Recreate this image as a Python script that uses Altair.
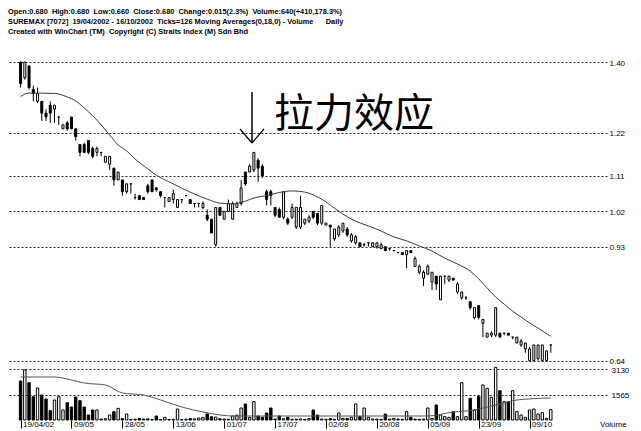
import altair as alt
import pandas as pd

# ---------------- data ----------------
header_lines = [
    "Open:0.680  High:0.680  Low:0.660  Close:0.680  Change:0.015(2.3%)  Volume:640(+410,178.3%)",
    "SUREMAX [7072]  19/04/2002 - 16/10/2002  Ticks=126 Moving Averages(0,18,0) - Volume      Daily",
    "Created with WinChart (TM)  Copyright (C) Straits Index (M) Sdn Bhd",
]
annotation = "拉力效应"

open_ = [1.40, 1.36, 1.39, 1.33, 1.30, 1.30, 1.27, 1.29, 1.28, 1.26,
         1.23, 1.245, 1.26, 1.23, 1.19, 1.19, 1.20, 1.18, 1.17, 1.17,
         1.145, 1.14, 1.13, 1.10, 1.10, 1.07, 1.09, 1.055, 1.06, 1.055,
         1.085, 1.10, 1.08, 1.07, 1.055, 1.045, 1.05, 1.03, 1.05, 1.06,
         1.05, 1.04, 1.04, 1.03, 1.01, 1.00, 0.935, 1.03, 1.00, 1.02,
         1.00, 1.03, 1.04, 1.12, 1.12, 1.125, 1.15, 1.135, 1.07, 1.07,
         1.03, 1.025, 1.005, 1.00, 1.005, 0.98, 0.98, 0.99, 0.995, 1.02,
         1.015, 0.99, 0.985, 0.985, 0.95, 0.96, 0.97, 0.975, 0.945, 0.94,
         0.94, 0.935, 0.94, 0.93, 0.93, 0.925, 0.93, 0.925, 0.92, 0.915,
         0.915, 0.91, 0.92, 0.88, 0.865, 0.85, 0.86, 0.84, 0.855, 0.795,
         0.855, 0.845, 0.85, 0.815, 0.80, 0.80, 0.79, 0.75, 0.78, 0.735,
         0.70, 0.705, 0.705, 0.71, 0.71, 0.71, 0.70, 0.685, 0.68, 0.67,
         0.64, 0.64, 0.645, 0.64, 0.64, 0.68]
high = [1.40, 1.40, 1.39, 1.34, 1.335, 1.30, 1.28, 1.30, 1.29, 1.26,
        1.24, 1.25, 1.26, 1.23, 1.19, 1.195, 1.20, 1.185, 1.185, 1.17,
        1.16, 1.16, 1.13, 1.12, 1.10, 1.09, 1.09, 1.065, 1.06, 1.055,
        1.09, 1.10, 1.08, 1.07, 1.055, 1.055, 1.075, 1.05, 1.05, 1.06,
        1.05, 1.04, 1.04, 1.045, 1.025, 1.00, 1.03, 1.03, 1.02, 1.05,
        1.045, 1.045, 1.10, 1.12, 1.14, 1.17, 1.155, 1.14, 1.075, 1.075,
        1.03, 1.03, 1.07, 1.005, 1.04, 1.03, 1.06, 1.00, 1.01, 1.02,
        1.015, 1.035, 0.99, 0.985, 0.975, 0.985, 0.99, 0.98, 0.965, 0.96,
        0.94, 0.94, 0.94, 0.94, 0.94, 0.94, 0.93, 0.925, 0.92, 0.915,
        0.915, 0.92, 0.92, 0.905, 0.885, 0.87, 0.885, 0.865, 0.855, 0.855,
        0.855, 0.855, 0.85, 0.84, 0.815, 0.805, 0.79, 0.775, 0.78, 0.745,
        0.71, 0.715, 0.775, 0.71, 0.71, 0.71, 0.70, 0.70, 0.695, 0.685,
        0.675, 0.68, 0.68, 0.68, 0.665, 0.68]
low = [1.335, 1.355, 1.33, 1.30, 1.295, 1.25, 1.25, 1.245, 1.245, 1.24,
       1.23, 1.225, 1.23, 1.20, 1.16, 1.17, 1.165, 1.155, 1.16, 1.16,
       1.145, 1.125, 1.085, 1.10, 1.06, 1.065, 1.065, 1.05, 1.05, 1.05,
       1.065, 1.07, 1.07, 1.055, 1.03, 1.045, 1.04, 1.03, 1.04, 1.06,
       1.04, 1.03, 1.03, 1.025, 0.995, 0.965, 0.93, 1.01, 1.00, 1.02,
       1.00, 1.03, 1.035, 1.085, 1.12, 1.12, 1.095, 1.105, 1.035, 1.035,
       1.005, 1.005, 1.00, 0.985, 1.00, 0.975, 0.975, 0.985, 0.99, 1.00,
       0.985, 0.985, 0.985, 0.93, 0.945, 0.955, 0.965, 0.955, 0.94, 0.935,
       0.93, 0.93, 0.93, 0.93, 0.925, 0.925, 0.92, 0.92, 0.92, 0.915,
       0.91, 0.875, 0.915, 0.88, 0.86, 0.83, 0.86, 0.82, 0.82, 0.795,
       0.835, 0.84, 0.845, 0.81, 0.795, 0.795, 0.77, 0.745, 0.745, 0.70,
       0.70, 0.70, 0.70, 0.70, 0.705, 0.705, 0.695, 0.685, 0.675, 0.66,
       0.64, 0.64, 0.64, 0.64, 0.64, 0.66]
close = [1.345, 1.40, 1.335, 1.32, 1.32, 1.27, 1.26, 1.27, 1.29, 1.26,
         1.24, 1.23, 1.23, 1.21, 1.17, 1.17, 1.17, 1.16, 1.18, 1.17,
         1.16, 1.16, 1.10, 1.12, 1.07, 1.09, 1.09, 1.055, 1.05, 1.05,
         1.07, 1.07, 1.075, 1.06, 1.055, 1.055, 1.065, 1.05, 1.05, 1.06,
         1.04, 1.04, 1.04, 1.04, 1.00, 0.965, 1.03, 1.01, 1.02, 1.04,
         1.04, 1.04, 1.08, 1.09, 1.135, 1.17, 1.13, 1.11, 1.05, 1.06,
         1.01, 1.005, 1.07, 0.99, 1.03, 1.03, 1.03, 1.00, 1.005, 1.005,
         0.99, 1.035, 0.99, 0.98, 0.975, 0.98, 0.99, 0.96, 0.96, 0.955,
         0.93, 0.935, 0.94, 0.94, 0.94, 0.935, 0.92, 0.925, 0.92, 0.915,
         0.91, 0.92, 0.915, 0.90, 0.88, 0.865, 0.88, 0.865, 0.835, 0.855,
         0.855, 0.855, 0.845, 0.835, 0.815, 0.80, 0.775, 0.775, 0.75, 0.745,
         0.71, 0.71, 0.775, 0.70, 0.71, 0.705, 0.70, 0.70, 0.69, 0.685,
         0.67, 0.68, 0.68, 0.68, 0.665, 0.68]
volume = [2395, 3070, 2290, 1430, 1965, 1535, 1290, 570, 1228, 1430,
          614, 1064, 798, 1412, 1187, 798, 307, 614, 614, 60,
          80, 307, 511, 716, 80, 368, 30, 50, 90, 60,
          70, 30, 245, 30, 164, 30, 40, 675, 30, 50,
          80, 70, 120, 160, 368, 200, 180, 80, 60, 50,
          245, 300, 737, 982, 150, 1125, 245, 164, 430, 737,
          60, 245, 80, 164, 40, 50, 60, 40, 90, 614,
          307, 60, 40, 80, 40, 430, 100, 100, 164, 982,
          205, 737, 164, 60, 60, 40, 368, 60, 100, 60,
          40, 511, 164, 60, 40, 60, 737, 100, 921, 307,
          205, 164, 511, 205, 2290, 205, 1330, 614, 1470, 2150,
          1945, 1400, 3235, 1800, 1125, 1125, 1800, 511, 307, 164,
          614, 675, 368, 450, 100, 640]

ma_idx = [0, 2, 8, 11, 13, 15, 17, 19, 21, 23, 25, 27, 30, 32, 35, 38, 41, 44,
          47, 50, 53, 55, 58, 61, 64, 67, 69, 72, 74, 76, 79, 82, 85, 88, 91,
          94, 97, 100, 103, 106, 108, 110, 112, 114, 116, 118, 120, 122, 125]
ma_val = [1.312, 1.321, 1.320, 1.311, 1.301, 1.283, 1.263, 1.240, 1.214, 1.189,
          1.174, 1.153, 1.128, 1.112, 1.095, 1.079, 1.064, 1.051, 1.041, 1.039,
          1.046, 1.054, 1.060, 1.068, 1.072, 1.069, 1.062, 1.044, 1.028, 1.013,
          0.995, 0.983, 0.970, 0.955, 0.945, 0.932, 0.919, 0.901, 0.886, 0.868,
          0.848, 0.825, 0.802, 0.784, 0.766, 0.751, 0.736, 0.723, 0.702]

vma_idx = [0, 8, 12, 15, 20, 24, 29, 33, 38, 43, 47, 50, 66, 96, 102, 107, 111, 114, 117, 125]
vma_val = [2640, 2640, 2456, 2272, 2150, 1658, 1535, 1228, 798, 491,
           307, 245, 245, 245, 491, 614, 860, 1044, 1228, 1350]

date_ticks = [0, 12, 24, 36, 48, 60, 72, 84, 96, 108, 120]
date_labels = ["19/04/02", "09/05", "28/05", "13/06", "01/07", "17/07",
               "02/08", "20/08", "05/09", "23/09", "09/10"]
price_ticks = [0.64, 0.93, 1.02, 1.11, 1.22, 1.40]
vol_ticks = [1565, 3130]

# ---------------- tables ----------------
candles = pd.DataFrame({"i": list(range(len(open_))), "o": open_, "h": high,
                        "l": low, "c": close, "v": volume})
candles["dir"] = ["up" if c >= o else "down" for o, c in zip(open_, close)]
ma = pd.DataFrame({"i": ma_idx, "m": ma_val})
vma = pd.DataFrame({"i": vma_idx, "m": vma_val})
one = pd.DataFrame({"a": [0]})
head = pd.DataFrame({"t": ["\n".join(s.replace("  ", "\u00a0 ") for s in header_lines)]})
ann = pd.DataFrame({"t": [annotation]})
vol_lab = pd.DataFrame({"t": ["Volume"]})

# ---------------- layout ----------------
W = 599
PRICE_H = 356
VOL_H = 56
FONT = "Liberation Sans"
x_scale = alt.Scale(domain=[-1.785, 137.07], nice=False, zero=False)
p_scale = alt.Scale(domain=[0.6316, 1.5374], nice=False, zero=False)
v_scale = alt.Scale(domain=[0, 3438], nice=False, zero=True)
fill = alt.Fill("dir:N", scale=alt.Scale(domain=["up", "down"], range=["white", "black"]), legend=None)

p_axis = alt.Axis(orient="right", values=price_ticks, format=".2f", grid=True,
                  gridDash=[2, 2], gridColor="#000000", gridOpacity=0.85, domain=False,
                  ticks=False, labelPadding=2, labelFontSize=8, labelFont=FONT,
                  labelColor="black", title=None, labelOffset=1)
X = alt.X("i:Q", scale=x_scale, axis=None)

wick = alt.Chart(candles).mark_rule(color="black", strokeWidth=1).encode(
    x=X, y=alt.Y("l:Q", scale=p_scale, axis=p_axis), y2="h:Q")
body = alt.Chart(candles).mark_bar(width=2, stroke="black", strokeWidth=1).encode(
    x=X, y=alt.Y("o:Q", scale=p_scale, axis=p_axis), y2="c:Q", fill=fill)
ma_line = alt.Chart(ma).mark_line(color="#3a3a3a", strokeWidth=1, interpolate="monotone").encode(
    x=X, y=alt.Y("m:Q", scale=p_scale, axis=p_axis))

head_txt = alt.Chart(head).mark_text(align="left", baseline="top", font=FONT,
                                     fontSize=7.4, fontWeight="bold", lineBreak="\n",
                                     lineHeight=10, color="black").encode(
    x=alt.value(0), y=alt.value(0), text="t:N")
ann_txt = alt.Chart(ann).mark_text(align="left", baseline="middle", font="Noto Sans CJK SC",
                                   fontSize=40, color="black").encode(
    x=alt.value(266), y=alt.value(107), text="t:N")
shaft = alt.Chart(one).mark_rule(color="black", strokeWidth=1.5).encode(
    x=alt.value(244), x2=alt.value(244), y=alt.value(84), y2=alt.value(135))
head_l = alt.Chart(one).mark_rule(color="black", strokeWidth=1.2).encode(
    x=alt.value(232), y=alt.value(121), x2=alt.value(244), y2=alt.value(135))
head_r = alt.Chart(one).mark_rule(color="black", strokeWidth=1.2).encode(
    x=alt.value(256), y=alt.value(121), x2=alt.value(244), y2=alt.value(135))

price = alt.layer(wick, body, ma_line, head_txt, ann_txt, shaft, head_l, head_r).properties(
    width=W, height=PRICE_H)

label_expr = "[" + ",".join("'%s'" % s for s in date_labels) + "][round(datum.value/12)]"
x_axis = alt.Axis(orient="bottom", values=date_ticks, labelExpr=label_expr, domain=False,
                  ticks=True, tickSize=8, tickColor="black", labelAlign="left",
                  labelBaseline="top", labelPadding=-8, labelOffset=2, grid=False,
                  labelFontSize=8, labelFont=FONT,
                  labelColor="black", title=None)
v_axis = alt.Axis(orient="right", values=vol_ticks, grid=True, gridDash=[2, 2],
                  gridColor="#000000", gridOpacity=0.85, domain=False, ticks=False,
                  labelPadding=4, labelFontSize=8, labelFont=FONT, labelColor="black",
                  title=None, format="d", labelOffset=1)
XV = alt.X("i:Q", scale=x_scale, axis=x_axis)

vbar = alt.Chart(candles).mark_bar(width=2.4, stroke="black", strokeWidth=1).encode(
    x=XV, y=alt.Y("v:Q", scale=v_scale, axis=v_axis), fill=fill)
vma_line = alt.Chart(vma).mark_line(color="#555555", strokeWidth=1, interpolate="monotone").encode(
    x=XV, y=alt.Y("m:Q", scale=v_scale, axis=v_axis))
vol_txt = alt.Chart(vol_lab).mark_text(align="left", baseline="middle", font=FONT,
                                       fontSize=8, color="black").encode(
    x=alt.value(W - 7), y=alt.value(VOL_H + 5), text="t:N")

vol = alt.layer(vbar, vma_line, vol_txt).properties(width=W, height=VOL_H)

chart = alt.VConcatChart(vconcat=[price, vol], spacing=0, bounds="flush", padding=0,
                         background="white").configure_view(stroke=None)

chart.save("out.html", embed_options={"renderer": "svg", "actions": False})
